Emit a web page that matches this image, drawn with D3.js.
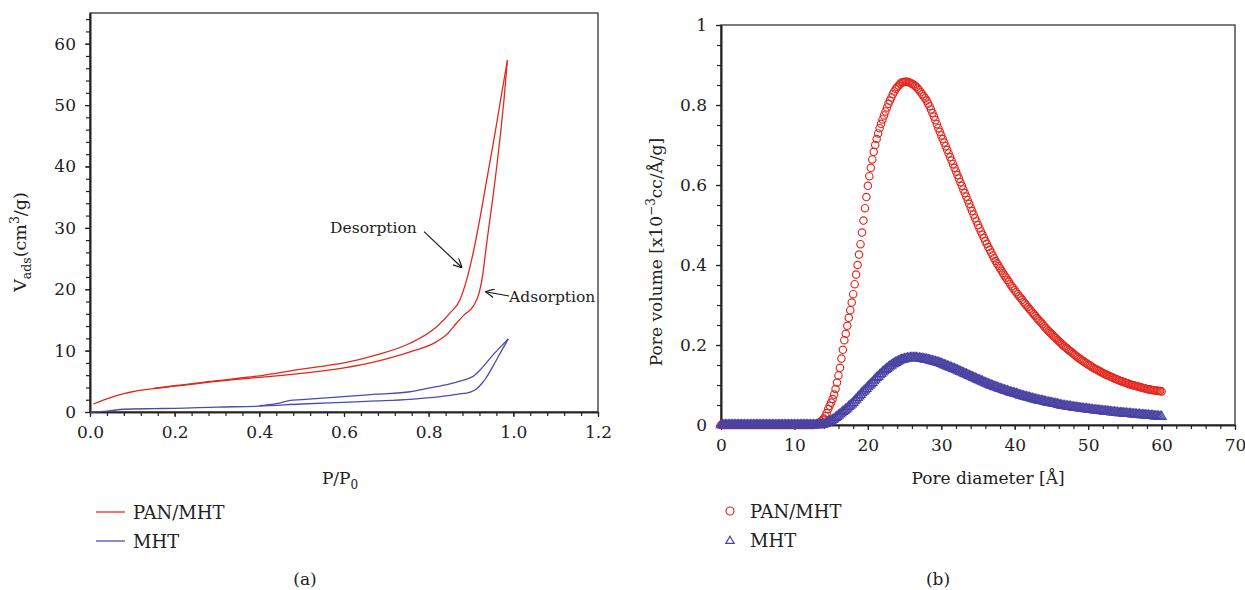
<!DOCTYPE html>
<html>
<head>
<meta charset="utf-8">
<script src="https://cdn.jsdelivr.net/npm/d3@7"></script>
<style>
  body { margin: 0; background: #fff; }
  svg text { font-family: "DejaVu Serif", "Liberation Serif", serif; fill: #222; }
</style>
</head>
<body>
<svg id="chart" width="1245" height="590"></svg>
<script>
// ---- (a) N2 isotherms, P/P0 vs Vads ----
const panAdsP = [0.008, 0.03, 0.05, 0.08, 0.1, 0.15, 0.2, 0.3, 0.4, 0.5, 0.55, 0.6, 0.68, 0.756, 0.82, 0.845, 0.866, 0.885, 0.905, 0.92, 0.928, 0.934, 0.94, 0.951, 0.96, 0.97, 0.978, 0.986];
const panAdsV = [1.3, 1.9, 2.4, 3.0, 3.3, 3.8, 4.2, 5.0, 5.65, 6.3, 6.7, 7.2, 8.3, 9.8, 11.5, 12.8, 14.5, 15.9, 17.2, 19.6, 22.5, 25.8, 29.0, 34.6, 39.5, 45.5, 50.9, 57.3];
const panDesP = [0.15, 0.2, 0.3, 0.4, 0.5, 0.543, 0.6, 0.677, 0.756, 0.819, 0.85, 0.874, 0.89, 0.905, 0.921, 0.929, 0.943, 0.957, 0.97, 0.986];
const panDesV = [3.85, 4.3, 5.1, 5.9, 7.0, 7.4, 8.0, 9.3, 11.2, 13.9, 16.1, 18.3, 21.6, 25.9, 31.5, 34.6, 40.1, 45.5, 50.9, 57.3];

const mhtAdsP = [0.0, 0.04, 0.08, 0.15, 0.2, 0.3, 0.4, 0.5, 0.598, 0.677, 0.756, 0.827, 0.87, 0.898, 0.912, 0.925, 0.937, 0.953, 0.969, 0.988];
const mhtAdsV = [0.0, 0.15, 0.45, 0.55, 0.6, 0.8, 0.95, 1.3, 1.58, 1.8, 2.07, 2.5, 2.9, 3.25, 3.7, 4.6, 5.7, 7.6, 9.6, 11.9];
const mhtDesP = [0.4, 0.43, 0.45, 0.47, 0.5, 0.598, 0.677, 0.756, 0.8, 0.85, 0.882, 0.905, 0.925, 0.947, 0.967, 0.988];
const mhtDesV = [1.05, 1.25, 1.5, 1.85, 2.0, 2.5, 2.9, 3.3, 3.9, 4.6, 5.2, 5.8, 7.1, 8.9, 10.4, 11.9];

// ---- (b) pore size distribution, one value every 0.2 Å from 0 to 60 Å ----
const diameterStep = 0.2;
const panMhtPV = [
  0,0,0,0,0,0,0,0,0,0,
  0,0,0,0,0,0,0,0,0,0,
  0,0,0,0,0,0,0,0,0,0,
  0,0,0,0,0,0,0,0,0,0,
  0,0,0,0,0,0,0,0,0,0,
  0,0,0,0,0,0,0,0,0,0,
  0,0,0,0,.001,.002,.004,.006,.009,.012,
  .016,.022,.030,.040,.048,.056,.065,.076,.090,.106,
  .124,.143,.166,.188,.212,.228,.248,.268,.287,.306,
  .327,.352,.376,.400,.426,.452,.481,.511,.542,.570,
  .598,.622,.643,.664,.683,.700,.715,.729,.742,.753,
  .764,.774,.784,.794,.803,.811,.819,.827,.834,.840,
  .845,.849,.853,.856,.857,.858,.858,.858,.857,.855,
  .853,.851,.848,.845,.841,.837,.832,.827,.822,.817,
  .811,.804,.797,.789,.780,.771,.762,.752,.742,.733,
  .724,.715,.706,.697,.688,.679,.670,.661,.652,.643,
  .634,.625,.616,.607,.598,.589,.580,.571,.562,.553,
  .544,.535,.526,.517,.509,.500,.492,.484,.476,.468,
  .460,.453,.445,.438,.431,.424,.417,.410,.404,.398,
  .392,.386,.380,.374,.369,.363,.358,.352,.347,.342,
  .337,.332,.327,.322,.318,.313,.308,.304,.299,.295,
  .290,.286,.281,.277,.273,.268,.264,.260,.256,.252,
  .247,.243,.239,.235,.231,.228,.224,.220,.217,.213,
  .210,.206,.203,.199,.196,.193,.190,.187,.184,.181,
  .178,.175,.172,.169,.166,.164,.161,.159,.156,.154,
  .151,.149,.147,.144,.142,.140,.138,.136,.134,.132,
  .130,.128,.126,.125,.123,.121,.120,.118,.116,.115,
  .113,.112,.110,.109,.108,.106,.105,.104,.102,.101,
  .100,.099,.098,.097,.096,.095,.094,.093,.092,.091,
  .090,.089,.089,.088,.087,.087,.086,.086,.085,.085,
  .084
];
const mhtPV = [
  0,0,0,0,0,0,0,0,0,0,
  0,0,0,0,0,0,0,0,0,0,
  0,0,0,0,0,0,0,0,0,0,
  0,0,0,0,0,0,0,0,0,0,
  0,0,0,0,0,0,0,0,0,0,
  0,0,0,0,0,0,0,0,0,0,
  0,0,0,0,0,0,0,0,0,.001,
  .002,.003,.005,.007,.009,.011,.013,.015,.018,.021,
  .024,.027,.030,.033,.036,.039,.042,.046,.049,.052,
  .056,.060,.064,.068,.072,.076,.080,.084,.087,.091,
  .095,.099,.102,.106,.110,.114,.118,.121,.125,.128,
  .132,.135,.138,.141,.144,.147,.149,.152,.154,.156,
  .158,.160,.162,.163,.164,.165,.166,.167,.167,.168,
  .168,.168,.168,.168,.167,.167,.166,.166,.165,.164,
  .164,.163,.162,.161,.160,.159,.158,.157,.156,.155,
  .153,.152,.150,.149,.147,.146,.144,.143,.141,.140,
  .138,.137,.135,.133,.132,.130,.128,.127,.125,.123,
  .122,.120,.118,.117,.115,.113,.112,.110,.109,.107,
  .105,.104,.102,.101,.099,.098,.096,.095,.094,.092,
  .091,.090,.088,.087,.086,.085,.083,.082,.081,.080,
  .079,.078,.077,.075,.074,.073,.072,.071,.070,.069,
  .068,.067,.066,.065,.064,.063,.062,.061,.061,.060,
  .059,.058,.057,.056,.056,.055,.054,.053,.053,.052,
  .051,.050,.049,.048,.048,.047,.047,.046,.046,.045,
  .044,.044,.043,.043,.042,.042,.041,.041,.040,.040,
  .039,.039,.038,.038,.037,.037,.037,.036,.036,.035,
  .035,.034,.034,.034,.033,.033,.032,.032,.032,.031,
  .031,.030,.030,.030,.029,.029,.029,.028,.028,.028,
  .027,.027,.027,.026,.026,.026,.025,.025,.025,.024,
  .024,.024,.023,.023,.023,.022,.022,.022,.021,.021,
  .021
];

const leftXTicks = [0, 0.2, 0.4, 0.6, 0.8, 1.0, 1.2];
const leftYTicks = [0, 10, 20, 30, 40, 50, 60];
const rightXTicks = [0, 10, 20, 30, 40, 50, 60, 70];
const rightYTicks = [0, 0.2, 0.4, 0.6, 0.8, 1];

const seriesNames = ["PAN/MHT", "MHT"];
const lineColors = ["#e3271d", "#4b4bb0"];
const markColors = ["#e2291f", "#4a43a4"];

const svg = d3.select("#chart");
const axisColor = "#222";

function styleAxis(g, showLabels) {
  g.select(".domain").attr("stroke", axisColor).attr("stroke-width", 1.6);
  g.selectAll(".tick line").attr("stroke", axisColor).attr("stroke-width", 1.2);
  g.selectAll(".tick text").style("font-size", "17px").attr("fill", axisColor);
  if (!showLabels) g.selectAll(".tick text").remove();
}

function drawFrame(x, y, xTicks, yTicks, xMinorStep, yMinorStep, xFmt, yFmt) {
  const [x0, x1] = x.range();
  const [y0, y1] = y.range();
  svg.append("rect")
    .attr("x", x0).attr("y", y1).attr("width", x1 - x0).attr("height", y0 - y1)
    .attr("fill", "none").attr("stroke", "#333").attr("stroke-width", 1.3);

  const xd = x.domain(), yd = y.domain();
  const xMinor = d3.range(xd[0], xd[1] + 1e-9, xMinorStep);
  const yMinor = d3.range(yd[0], yd[1] + 1e-9, yMinorStep);

  svg.append("g").attr("transform", `translate(0,${y0})`)
    .call(d3.axisBottom(x).tickValues(xMinor).tickSize(4).tickSizeOuter(0).tickFormat(""))
    .call(g => styleAxis(g, false));
  svg.append("g").attr("transform", `translate(${x0},0)`)
    .call(d3.axisLeft(y).tickValues(yMinor).tickSize(4).tickSizeOuter(0).tickFormat(""))
    .call(g => styleAxis(g, false));

  svg.append("g").attr("transform", `translate(0,${y0})`)
    .call(d3.axisBottom(x).tickValues(xTicks).tickSize(5).tickPadding(9).tickSizeOuter(0).tickFormat(xFmt))
    .call(g => styleAxis(g, true));
  svg.append("g").attr("transform", `translate(${x0},0)`)
    .call(d3.axisLeft(y).tickValues(yTicks).tickSize(5).tickPadding(9).tickSizeOuter(0).tickFormat(yFmt))
    .call(g => styleAxis(g, true));
}

// ---------- panel (a) ----------
const xa = d3.scaleLinear().domain([0, 1.2]).range([90, 598]);
const ya = d3.scaleLinear().domain([0, 65]).range([412, 13]);

const lineA = d3.line().x(d => xa(d[0])).y(d => ya(d[1])).curve(d3.curveMonotoneX);
const zip = (a, b) => a.map((v, i) => [v, b[i]]);

const isotherms = [
  { pts: zip(panAdsP, panAdsV), c: 0 },
  { pts: zip(panDesP, panDesV), c: 0 },
  { pts: zip(mhtAdsP, mhtAdsV), c: 1 },
  { pts: zip(mhtDesP, mhtDesV), c: 1 }
];

drawFrame(xa, ya, leftXTicks, leftYTicks, 0.04, 2, d => d.toFixed(1), d3.format("d"));

svg.append("g").selectAll("path").data(isotherms).join("path")
  .attr("d", d => lineA(d.pts))
  .attr("fill", "none")
  .attr("stroke", d => lineColors[d.c])
  .attr("stroke-width", 1.3);

// annotations
svg.append("defs").append("marker")
  .attr("id", "arr").attr("viewBox", "0 0 10 10").attr("refX", 10).attr("refY", 5)
  .attr("markerWidth", 9).attr("markerHeight", 9).attr("markerUnits", "userSpaceOnUse")
  .attr("orient", "auto")
  .append("path").attr("d", "M0,0L10,5L0,10").attr("fill", "none").attr("stroke", "#111").attr("stroke-width", 1.3);

const notes = [
  { text: "Desorption", tx: 0.772, ty: 29.2, anchor: "end", from: [0.789, 29.4], to: [0.879, 23.5] },
  { text: "Adsorption", tx: 0.990, ty: 17.9, anchor: "start", from: [0.990, 18.9], to: [0.934, 19.6] }
];
notes.forEach(n => {
  svg.append("line")
    .attr("x1", xa(n.from[0])).attr("y1", ya(n.from[1]))
    .attr("x2", xa(n.to[0])).attr("y2", ya(n.to[1]))
    .attr("stroke", "#111").attr("stroke-width", 1.1).attr("marker-end", "url(#arr)");
  svg.append("text").attr("x", xa(n.tx)).attr("y", ya(n.ty))
    .attr("text-anchor", n.anchor).style("font-size", "15.5px").text(n.text);
});

// axis titles (a)
const tA = svg.append("text").attr("x", 340).attr("y", 484).attr("text-anchor", "middle").style("font-size", "17px");
tA.append("tspan").text("P/P");
tA.append("tspan").attr("dy", 5).style("font-size", "12px").text("0");

const yA = svg.append("text").attr("transform", "translate(26,242) rotate(-90)").attr("text-anchor", "middle").style("font-size", "17.5px");
yA.append("tspan").text("V");
yA.append("tspan").attr("dy", 5).style("font-size", "12.5px").text("ads");
yA.append("tspan").attr("dy", -5).text("(cm");
yA.append("tspan").attr("dy", -7).style("font-size", "12.5px").text("3");
yA.append("tspan").attr("dy", 7).text("/g)");

// legend (a)
seriesNames.forEach((name, i) => {
  const ly = 512 + i * 29;
  svg.append("line").attr("x1", 96).attr("x2", 125).attr("y1", ly).attr("y2", ly)
    .attr("stroke", lineColors[i]).attr("stroke-width", 1.3);
  svg.append("text").attr("x", 133).attr("y", ly + 6.5).style("font-size", "18px").text(name);
});
svg.append("text").attr("x", 305).attr("y", 585).attr("text-anchor", "middle").style("font-size", "17px").text("(a)");

// ---------- panel (b) ----------
const xb = d3.scaleLinear().domain([0, 70]).range([721, 1235]);
const yb = d3.scaleLinear().domain([0, 1]).range([425, 25]);

drawFrame(xb, yb, rightXTicks, rightYTicks, 2, 0.05, d3.format("d"), d => (d === 0 || d === 1) ? String(d) : d.toFixed(1));

const diam = i => +(i * diameterStep).toFixed(1);
const tri = d3.symbol().type(d3.symbolTriangle).size(38);

svg.append("g").selectAll("circle").data(panMhtPV).join("circle")
  .attr("cx", (d, i) => xb(diam(i))).attr("cy", d => yb(d)).attr("r", 3.7)
  .attr("fill", "none").attr("stroke", markColors[0]).attr("stroke-width", 1.15);

svg.append("g").selectAll("path").data(mhtPV).join("path")
  .attr("transform", (d, i) => `translate(${xb(diam(i))},${yb(d)})`)
  .attr("d", tri)
  .attr("fill", "none").attr("stroke", markColors[1]).attr("stroke-width", 1.15);

// axis titles (b)
svg.append("text").attr("x", 988).attr("y", 484).attr("text-anchor", "middle").style("font-size", "17px").text("Pore diameter [Å]");
const yB = svg.append("text").attr("transform", "translate(662,252) rotate(-90)").attr("text-anchor", "middle").style("font-size", "17px");
yB.append("tspan").text("Pore volume [x10");
yB.append("tspan").attr("dy", -7).style("font-size", "12px").text("−3");
yB.append("tspan").attr("dy", 7).text("cc/Å/g]");

// legend (b)
const triLegend = d3.symbol().type(d3.symbolTriangle).size(30);
seriesNames.forEach((name, i) => {
  const ly = 511 + i * 29;
  if (i === 0) {
    svg.append("circle").attr("cx", 730).attr("cy", ly).attr("r", 4)
      .attr("fill", "none").attr("stroke", markColors[0]).attr("stroke-width", 1.2);
  } else {
    svg.append("path").attr("transform", `translate(730,${ly + 1})`).attr("d", triLegend)
      .attr("fill", "none").attr("stroke", markColors[1]).attr("stroke-width", 1.2);
  }
  svg.append("text").attr("x", 750).attr("y", ly + 7).style("font-size", "18px").text(name);
});
svg.append("text").attr("x", 938).attr("y", 585).attr("text-anchor", "middle").style("font-size", "17px").text("(b)");
</script>
</body>
</html>
